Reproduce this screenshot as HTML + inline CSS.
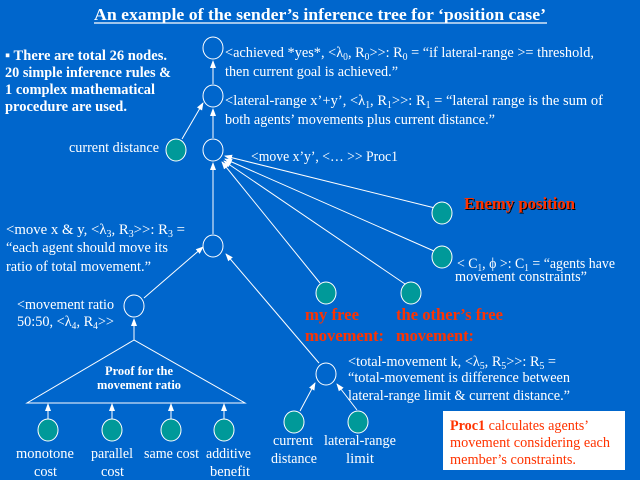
<!DOCTYPE html>
<html><head><meta charset="utf-8"><style>
html,body{margin:0;padding:0;background:#0066cc;}
svg{display:block}
text{font-family:"Liberation Serif",serif;fill:#fff;}
</style></head><body>
<svg width="640" height="480" viewBox="0 0 640 480" xmlns="http://www.w3.org/2000/svg">
<defs>
<marker id="ar" markerWidth="8" markerHeight="8" refX="7" refY="4" orient="auto" markerUnits="userSpaceOnUse"><path d="M0,1 L8,4 L0,7 Z" fill="#fff"/></marker>
</defs>
<rect width="640" height="480" fill="#0066cc"/>
<text x="320" y="20" text-anchor="middle" font-size="17" font-weight="bold" textLength="452" lengthAdjust="spacingAndGlyphs">An example of the sender’s inference tree for ‘position case’</text>
<line x1="94" y1="23" x2="547" y2="23" stroke="#fff" stroke-width="1.2"/>

<g font-size="15" font-weight="bold">
<text x="5" y="60" textLength="162" lengthAdjust="spacingAndGlyphs">▪ There are total 26 nodes.</text>
<text x="5" y="77" textLength="166" lengthAdjust="spacingAndGlyphs">20 simple inference rules &amp;</text>
<text x="5" y="94" textLength="150" lengthAdjust="spacingAndGlyphs">1 complex mathematical</text>
<text x="5" y="111" textLength="122" lengthAdjust="spacingAndGlyphs">procedure are used.</text>
</g>

<g stroke="#fff" stroke-width="1" fill="none">
<line x1="213" y1="84" x2="213" y2="61" marker-end="url(#ar)"/>
<line x1="213" y1="138" x2="213" y2="109" marker-end="url(#ar)"/>
<line x1="182" y1="139" x2="203" y2="103" marker-end="url(#ar)"/>
<line x1="213" y1="234" x2="213" y2="163" marker-end="url(#ar)"/>
<line x1="435" y1="208" x2="225" y2="156" marker-end="url(#ar)"/>
<line x1="434" y1="251" x2="225" y2="159" marker-end="url(#ar)"/>
<line x1="405" y1="284" x2="224" y2="161" marker-end="url(#ar)"/>
<line x1="320" y1="283" x2="222" y2="162" marker-end="url(#ar)"/>
<line x1="144" y1="298" x2="203" y2="247" marker-end="url(#ar)"/>
<line x1="319" y1="363" x2="226" y2="254" marker-end="url(#ar)"/>
<line x1="134" y1="340" x2="134" y2="319" marker-end="url(#ar)"/>
<polygon points="134,340 27,403 245,403"/>
<line x1="48" y1="419" x2="48" y2="404" marker-end="url(#ar)"/>
<line x1="112" y1="419" x2="112" y2="404" marker-end="url(#ar)"/>
<line x1="171" y1="419" x2="171" y2="404" marker-end="url(#ar)"/>
<line x1="224" y1="419" x2="224" y2="404" marker-end="url(#ar)"/>
<line x1="300" y1="411" x2="315" y2="383" marker-end="url(#ar)"/>
<line x1="357" y1="410" x2="337" y2="384" marker-end="url(#ar)"/>
<ellipse cx="213" cy="48" rx="10" ry="11"/>
<ellipse cx="213" cy="96" rx="10" ry="11"/>
<ellipse cx="213" cy="150" rx="10" ry="11"/>
<ellipse cx="213" cy="246" rx="10" ry="11"/>
<ellipse cx="134" cy="306" rx="10" ry="11"/>
<ellipse cx="326" cy="374" rx="10" ry="11"/>
</g>
<g stroke="#fff" stroke-width="1" fill="#009999">
<ellipse cx="176" cy="150" rx="10" ry="11"/>
<ellipse cx="442" cy="213" rx="10" ry="11"/>
<ellipse cx="442" cy="257" rx="10" ry="11"/>
<ellipse cx="326" cy="293" rx="10" ry="11"/>
<ellipse cx="411" cy="293" rx="10" ry="11"/>
<ellipse cx="48" cy="430" rx="10" ry="11"/>
<ellipse cx="112" cy="430" rx="10" ry="11"/>
<ellipse cx="171" cy="430" rx="10" ry="11"/>
<ellipse cx="224" cy="430" rx="10" ry="11"/>
<ellipse cx="294" cy="422" rx="10" ry="11"/>
<ellipse cx="358" cy="422" rx="10" ry="11"/>
</g>

<g font-size="15">
<text x="225" y="57" textLength="369" lengthAdjust="spacingAndGlyphs">&lt;achieved *yes*, &lt;λ<tspan font-size="10" dy="3">0</tspan><tspan dy="-3">, R</tspan><tspan font-size="10" dy="3">0</tspan><tspan dy="-3">&gt;&gt;: R</tspan><tspan font-size="10" dy="3">0</tspan><tspan dy="-3"> = “if lateral-range &gt;= threshold,</tspan></text>
<text x="225" y="76" textLength="173" lengthAdjust="spacingAndGlyphs">then current goal is achieved.”</text>
<text x="225" y="105" textLength="378" lengthAdjust="spacingAndGlyphs">&lt;lateral-range x’+y’, &lt;λ<tspan font-size="10" dy="3">1</tspan><tspan dy="-3">, R</tspan><tspan font-size="10" dy="3">1</tspan><tspan dy="-3">&gt;&gt;: R</tspan><tspan font-size="10" dy="3">1</tspan><tspan dy="-3">  = “lateral range is the sum of</tspan></text>
<text x="225" y="124" textLength="270" lengthAdjust="spacingAndGlyphs">both agents’ movements plus current distance.”</text>
<text x="69" y="152" textLength="90" lengthAdjust="spacingAndGlyphs">current distance</text>
<text x="251" y="161" textLength="147" lengthAdjust="spacingAndGlyphs">&lt;move x’y’, &lt;… &gt;&gt; Proc1</text>
<text x="6" y="234" textLength="179" lengthAdjust="spacingAndGlyphs">&lt;move x &amp; y,  &lt;λ<tspan font-size="10" dy="3">3</tspan><tspan dy="-3">, R</tspan><tspan font-size="10" dy="3">3</tspan><tspan dy="-3">&gt;&gt;: R</tspan><tspan font-size="10" dy="3">3</tspan><tspan dy="-3"> =</tspan></text>
<text x="6" y="252" textLength="162" lengthAdjust="spacingAndGlyphs">“each agent should move its</text>
<text x="6" y="271" textLength="145" lengthAdjust="spacingAndGlyphs">ratio of total movement.”</text>
<text x="17" y="309" textLength="97" lengthAdjust="spacingAndGlyphs">&lt;movement ratio</text>
<text x="17" y="326" textLength="97" lengthAdjust="spacingAndGlyphs">50:50, &lt;λ<tspan font-size="10" dy="3">4</tspan><tspan dy="-3">, R</tspan><tspan font-size="10" dy="3">4</tspan><tspan dy="-3">&gt;&gt;</tspan></text>
<text x="457" y="268" textLength="158" lengthAdjust="spacingAndGlyphs">&lt; C<tspan font-size="10" dy="3">1</tspan><tspan dy="-3">, ϕ &gt;: C</tspan><tspan font-size="10" dy="3">1</tspan><tspan dy="-3"> = “agents have</tspan></text>
<text x="455" y="281" textLength="132" lengthAdjust="spacingAndGlyphs">movement constraints”</text>
<text x="348" y="366" textLength="208" lengthAdjust="spacingAndGlyphs">&lt;total-movement k, &lt;λ<tspan font-size="10" dy="3">5</tspan><tspan dy="-3">, R</tspan><tspan font-size="10" dy="3">5</tspan><tspan dy="-3">&gt;&gt;: R</tspan><tspan font-size="10" dy="3">5</tspan><tspan dy="-3"> =</tspan></text>
<text x="348" y="382" textLength="222" lengthAdjust="spacingAndGlyphs">“total-movement is difference between</text>
<text x="348" y="400" textLength="222" lengthAdjust="spacingAndGlyphs">lateral-range limit &amp; current distance.”</text>
<text x="16" y="458" textLength="58" lengthAdjust="spacingAndGlyphs">monotone</text>
<text x="34" y="476" textLength="23" lengthAdjust="spacingAndGlyphs">cost</text>
<text x="91" y="458" textLength="42" lengthAdjust="spacingAndGlyphs">parallel</text>
<text x="101" y="476" textLength="23" lengthAdjust="spacingAndGlyphs">cost</text>
<text x="144" y="458" textLength="55" lengthAdjust="spacingAndGlyphs">same cost</text>
<text x="206" y="458" textLength="45" lengthAdjust="spacingAndGlyphs">additive</text>
<text x="210" y="476" textLength="40" lengthAdjust="spacingAndGlyphs">benefit</text>
<text x="273" y="445" textLength="40" lengthAdjust="spacingAndGlyphs">current</text>
<text x="271" y="463" textLength="46" lengthAdjust="spacingAndGlyphs">distance</text>
<text x="324" y="445" textLength="72" lengthAdjust="spacingAndGlyphs">lateral-range</text>
<text x="346" y="463" textLength="28" lengthAdjust="spacingAndGlyphs">limit</text>
</g>
<g font-size="13" font-weight="bold">
<text x="139" y="375" text-anchor="middle" textLength="68" lengthAdjust="spacingAndGlyphs">Proof for the</text>
<text x="139" y="389" text-anchor="middle" textLength="84" lengthAdjust="spacingAndGlyphs">movement ratio</text>
</g>
<text x="465" y="210" font-size="17" font-weight="bold" style="fill:#000" textLength="111" lengthAdjust="spacingAndGlyphs">Enemy position</text>
<text x="464" y="209" font-size="17" font-weight="bold" style="fill:#ff3300" textLength="111" lengthAdjust="spacingAndGlyphs">Enemy position</text>
<g font-size="17" font-weight="bold">
<text x="305" y="320" style="fill:#ff3300" textLength="54" lengthAdjust="spacingAndGlyphs">my free</text>
<text x="305" y="341" style="fill:#ff3300" textLength="79" lengthAdjust="spacingAndGlyphs">movement:</text>
<text x="396" y="320" style="fill:#ff3300" textLength="107" lengthAdjust="spacingAndGlyphs">the other’s free</text>
<text x="396" y="341" style="fill:#ff3300" textLength="78" lengthAdjust="spacingAndGlyphs">movement:</text>
</g>
<rect x="443" y="411" width="182" height="59" fill="#fff"/>
<g font-size="15">
<text x="450" y="430" style="fill:#ff3300" textLength="139" lengthAdjust="spacingAndGlyphs"><tspan font-weight="bold" style="fill:#ff3300">Proc1</tspan> calculates agents’</text>
<text x="450" y="447" style="fill:#ff3300" textLength="160" lengthAdjust="spacingAndGlyphs">movement considering each</text>
<text x="450" y="464" style="fill:#ff3300" textLength="126" lengthAdjust="spacingAndGlyphs">member’s constraints.</text>
</g>
</svg>
</body></html>
